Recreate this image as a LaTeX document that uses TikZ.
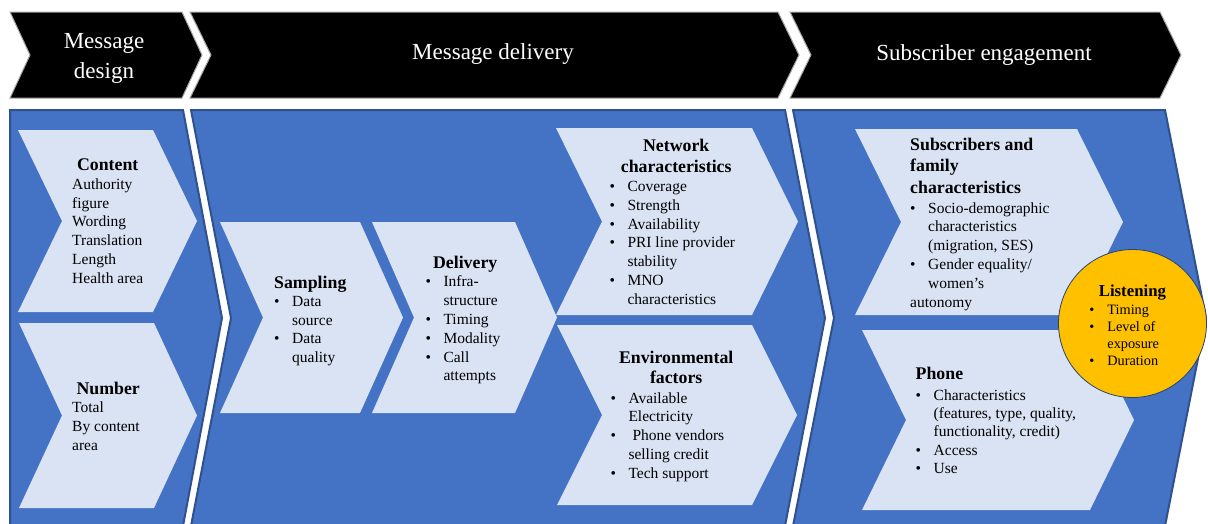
\documentclass[tikz,border=0pt]{standalone}
\usepackage{fontspec}
\setmainfont{Liberation Serif}

\definecolor{panelblue}{HTML}{4472C4}
\definecolor{paneledge}{HTML}{2F528F}
\definecolor{chevfill}{HTML}{DAE3F3}
\definecolor{listengold}{HTML}{FFC000}

% fonts
\newcommand{\dgBody}{\fontsize{15.5}{18.8}\selectfont}
\newcommand{\dgTitle}{\fontsize{17.8}{21}\selectfont\bfseries}
% one line of a text block (each is an \hbox stacked in a \vtop)
\newcommand{\dgTc}[1]{\hbox to\hsize{\hss\dgTitle #1\hss}}   % centred title line
\newcommand{\dgTl}[1]{\hbox{\dgTitle #1}}                     % left title line
\newcommand{\dgIt}[1]{\hbox{\makebox[18pt][l]{\textbullet}#1}} % bullet item
\newcommand{\dgCo}[1]{\hbox{\hspace*{18pt}#1}}                % item continuation
\newcommand{\dgPl}[1]{\hbox{#1}}                              % plain line
\newcommand{\dgCl}[1]{\hbox to\hsize{\hss#1\hss}}             % centred plain line
\newcommand{\dgSk}[1]{\baselineskip=#1pt\relax}

\tikzset{
  chevshape/.style n args={5}{insert path={
    (#1,#3) -- (#2,#3) -- ({#2+#5},{(#3+#4)/2}) -- (#2,#4) -- (#1,#4) -- ({#1+#5},{(#3+#4)/2}) -- cycle}},
  header/.style={fill=black, draw=black!35, line width=1pt, line join=miter},
  panel/.style={fill=panelblue, draw=paneledge, line width=2pt, line join=miter},
  inner/.style={fill=chevfill},
  txt/.style={inner sep=0pt, anchor=base west, font=\dgBody, text=black},
  headtxt/.style={inner sep=0pt, anchor=base, font=\fontsize{23}{30}\selectfont, text=white},
}

\begin{document}
\begin{tikzpicture}[x=1pt, y=-1pt]
\useasboundingbox (0,0) rectangle (1208,523);
\clip (0,0) rectangle (1208,523);

% stage headers
\path[header] (10,12) -- (182,12) -- (202,55) -- (182,98) -- (10,98) -- (30,55) -- cycle;
\path[header, chevshape={190}{778}{12}{98}{21}];
\path[header, chevshape={790}{1160}{12}{98}{21}];

\node[headtxt] (hdesign) at (104,48.5) {\vtop{\hsize=120pt \dgCl{Message}\dgCl{design}}};
\node[headtxt] (hdelivery) at (493,59) {Message delivery};
\node[headtxt] (hengage) at (984,60.5) {Subscriber engagement};

% stage panels
\path[panel] (10,110) -- (183,110) -- (222,318) -- (183,526) -- (10,526) -- cycle;
\path[panel, chevshape={191}{785}{110}{526}{40}];
\path[panel, chevshape={793}{1165}{110}{526}{41}];

% factor chevrons
\path[inner, chevshape={18}{153}{130}{312}{44}];
\path[inner, chevshape={19}{154}{323}{508}{43}];
\path[inner, chevshape={220}{360}{222}{413}{43}];
\path[inner, chevshape={372}{515}{222}{413}{42}];
\path[inner, chevshape={556}{752}{128}{315}{46}];
\path[inner, chevshape={557}{752}{325}{505}{45}];
\path[inner, chevshape={855}{1077}{129}{315}{46}];
\path[inner, chevshape={862}{1090}{330}{510}{44}];

\node[circle, fill=listengold, draw=paneledge!80!black, line width=0.8pt,
      minimum size=148pt, inner sep=0pt] (listencirc) at (1132.5,323.5) {};

% message design
\node[txt] (content) at (72,170.5) {\vtop{\hsize=71pt
  \dgTc{Content}\dgPl{Authority}\dgPl{figure}\dgPl{Wording}\dgPl{Translation}\dgPl{Length}\dgPl{Health area}}};
\node[txt] (number) at (72,394) {\vtop{\hsize=72pt
  \dgTc{Number}\dgPl{Total}\dgPl{By content}\dgPl{area}}};

% message delivery
\node[txt] (sampling) at (274,288) {\vtop{\dgSk{18.5}
  \dgTl{Sampling}\dgIt{Data}\dgCo{source}\dgIt{Data}\dgCo{quality}}};
\node[txt] (delivery) at (425.3,268) {\vtop{\hsize=79.4pt
  \dgTc{Delivery}\dgIt{Infra-}\dgCo{structure}\dgIt{Timing}\dgIt{Modality}\dgIt{Call}\dgCo{attempts}}};
\node[txt] (network) at (609.3,151) {\vtop{\hsize=133.4pt
  \dgTc{Network}\dgSk{21.5}\dgTc{characteristics}\dgSk{19}\dgIt{Coverage}\dgSk{18.8}\dgIt{Strength}%
  \dgIt{Availability}\dgIt{PRI line provider}\dgCo{stability}\dgIt{MNO}\dgCo{characteristics}}};
\node[txt] (environ) at (610.3,363) {\vtop{\hsize=131.4pt
  \dgTc{Environmental}\dgSk{20.5}\dgTc{factors}\dgSk{19.5}\dgIt{Available}\dgSk{18.8}\dgCo{Electricity}%
  \dgIt{\hspace*{4pt}Phone vendors}\dgCo{selling credit}\dgIt{Tech support}}};

% subscriber engagement
\node[txt] (subscr) at (910,150) {\vtop{
  \dgTl{Subscribers and}\dgSk{21.5}\dgTl{family}\dgTl{characteristics}\dgSk{20}\dgIt{Socio-demographic}%
  \dgSk{18.8}\dgCo{characteristics}\dgCo{(migration, SES)}\dgIt{Gender equality/}\dgCo{women’s}\dgPl{autonomy}}};
\node[txt] (phone) at (915.5,379) {\vtop{
  \dgTl{Phone}\dgSk{21}\dgIt{Characteristics}\dgSk{18}\dgCo{(features, type, quality,}%
  \dgCo{functionality, credit)}\dgSk{19.8}\dgIt{Access}\dgSk{17.6}\dgIt{Use}}};
\node[txt, font=\fontsize{14.3}{17}\selectfont] (listening) at (1089.2,296) {\vtop{\hsize=86pt
  \dgCl{\fontsize{16.8}{20}\selectfont\bfseries Listening}\dgSk{18}\dgIt{Timing}\dgSk{17}%
  \dgIt{Level of}\dgCo{exposure}\dgIt{Duration}}};
\end{tikzpicture}
\end{document}
